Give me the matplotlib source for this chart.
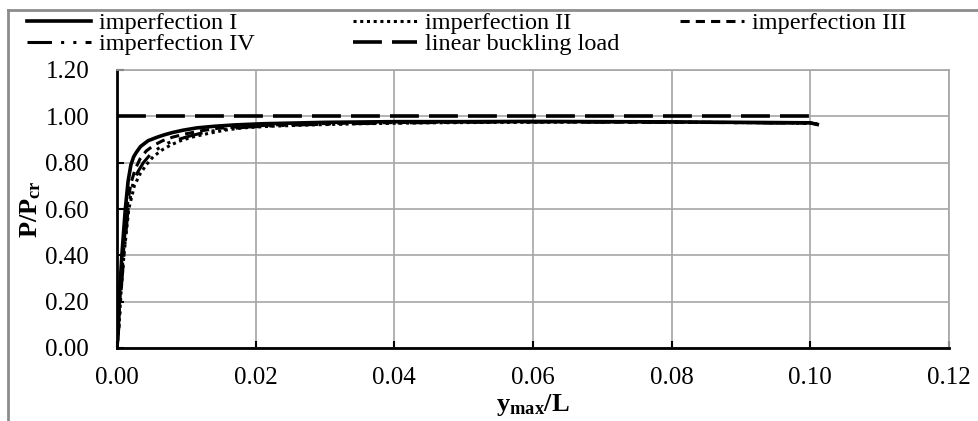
import matplotlib
matplotlib.use("Agg")
import matplotlib.pyplot as plt
from matplotlib.lines import Line2D

# values
imp1_x = [0, 0.0002, 0.0004, 0.0007, 0.0012, 0.0016, 0.002, 0.0024, 0.0028, 0.0034, 0.0045, 0.0058, 0.0068,
          0.008, 0.0095, 0.0115, 0.014, 0.017, 0.021, 0.03, 0.04, 0.05, 0.06, 0.07, 0.08, 0.09, 0.1, 0.101]
imp1_y = [0, 0.10, 0.25, 0.40, 0.60, 0.72, 0.79, 0.825, 0.845, 0.87, 0.895, 0.91, 0.92,
          0.93, 0.94, 0.95, 0.957, 0.963, 0.968, 0.974, 0.977, 0.977, 0.978, 0.977, 0.976, 0.974, 0.972, 0.965]

imp2_x = [0, 0.0003, 0.0006, 0.001, 0.0017, 0.0025, 0.0033, 0.0042, 0.0052, 0.0065, 0.0078, 0.0092, 0.0108,
          0.013, 0.0155, 0.018, 0.022, 0.028, 0.035, 0.045, 0.055, 0.065, 0.075, 0.085, 0.095, 0.1, 0.101]
imp2_y = [0, 0.10, 0.25, 0.40, 0.60, 0.70, 0.75, 0.79, 0.825, 0.855, 0.877, 0.895, 0.91,
          0.925, 0.94, 0.95, 0.957, 0.963, 0.968, 0.972, 0.974, 0.975, 0.975, 0.974, 0.972, 0.97, 0.966]

imp3_x = [0, 0.0002, 0.0005, 0.0009, 0.0014, 0.002, 0.0026, 0.0033, 0.0042, 0.0053, 0.0066, 0.008, 0.0097,
          0.012, 0.0145, 0.018, 0.023, 0.03, 0.04, 0.05, 0.06, 0.07, 0.08, 0.09, 0.1, 0.101]
imp3_y = [0, 0.10, 0.25, 0.40, 0.60, 0.71, 0.77, 0.815, 0.85, 0.875, 0.895, 0.91, 0.923,
          0.937, 0.948, 0.956, 0.963, 0.969, 0.973, 0.976, 0.977, 0.976, 0.975, 0.973, 0.971, 0.966]

imp4_x = [0, 0.0003, 0.0006, 0.001, 0.0016, 0.0023, 0.003, 0.0038, 0.0048, 0.006, 0.0073, 0.0088, 0.0105,
          0.0125, 0.015, 0.019, 0.025, 0.033, 0.042, 0.052, 0.062, 0.072, 0.082, 0.092, 0.1, 0.101]
imp4_y = [0, 0.10, 0.25, 0.40, 0.60, 0.71, 0.76, 0.80, 0.835, 0.862, 0.884, 0.9, 0.915,
          0.93, 0.943, 0.954, 0.962, 0.968, 0.972, 0.975, 0.976, 0.975, 0.974, 0.972, 0.97, 0.966]

linear_x = [0, 0.1]
linear_y = [1.0, 1.0]

x_ticks = [0.00, 0.02, 0.04, 0.06, 0.08, 0.10, 0.12]
y_ticks = [0.00, 0.20, 0.40, 0.60, 0.80, 1.00, 1.20]

plt.rcParams["font.family"] = ["Liberation Serif", "DejaVu Serif"]
plt.rcParams["mathtext.fontset"] = "custom"
plt.rcParams["mathtext.bf"] = "Liberation Serif:bold"
plt.rcParams["mathtext.rm"] = "Liberation Serif"

W, H = 979, 421
fig = plt.figure(figsize=(W / 100, H / 100), dpi=100)
ax = fig.add_axes([117 / W, 1 - 348 / H, (949 - 117) / W, (348 - 70) / H])

styles = {
    "imperfection I": dict(ls="-", lw=2.6),
    "imperfection II": dict(ls=(0, (1, 1.2)), lw=2.2),
    "imperfection III": dict(ls=(0, (3, 2)), lw=2.2),
    "imperfection IV": dict(ls=(0, (8, 3, 1, 3, 1, 3)), lw=2.2),
    "linear buckling load": dict(ls=(0, (8, 2.8)), lw=2.6),
}

ax.plot(imp2_x, imp2_y, color="black", **styles["imperfection II"])
ax.plot(imp4_x, imp4_y, color="black", **styles["imperfection IV"])
ax.plot(imp3_x, imp3_y, color="black", **styles["imperfection III"])
ax.plot(imp1_x, imp1_y, color="black", **styles["imperfection I"])
ax.plot(linear_x, linear_y, color="black", **styles["linear buckling load"])

ax.set_xlim(0, 0.12)
ax.set_ylim(0, 1.2)
ax.set_xticks(x_ticks)
ax.set_yticks(y_ticks)
ax.set_xticklabels([f"{v:.2f}" for v in x_ticks])
ax.set_yticklabels([f"{v:.2f}" for v in y_ticks])
ax.tick_params(direction="in", length=5, width=1.5, labelsize=18, pad=14)
ax.tick_params(axis="y", pad=20)
ax.grid(True, color="#a6a6a6", lw=1.2)
ax.set_axisbelow(True)
for side in ["top", "right"]:
    ax.spines[side].set_color("#a6a6a6")
    ax.spines[side].set_linewidth(1.2)
for side in ["left", "bottom"]:
    ax.spines[side].set_color("black")
    ax.spines[side].set_linewidth(2)

ax.set_xlabel(r"$\mathbf{y_{max}/L}$", fontsize=19, labelpad=2)
ax.set_ylabel(r"$\mathbf{P/P_{cr}}$", fontsize=19, labelpad=2)

# legend entries placed on the Excel grid: 3 columns, 2 rows
legend_order = ["imperfection I", "imperfection II", "imperfection III",
                "imperfection IV", "linear buckling load"]
col_x = [27, 353, 680]
row_y = [23, 44]
for i, name in enumerate(legend_order):
    x0 = col_x[i % 3]
    y0 = row_y[i // 3]
    handle = Line2D([], [], color="black", **styles[name])
    fig.legend([handle], [name], loc="center left", bbox_to_anchor=(x0 / W, 1 - y0 / H),
               frameon=False, fontsize=17.5, handlelength=2.65, handletextpad=0.3,
               borderpad=0, borderaxespad=0)

# grey chart-area border (top and left visible)
fig.add_artist(Line2D([8 / W, 1], [1 - 10 / H, 1 - 10 / H], transform=fig.transFigure, color="#8c8c8c", lw=2))
fig.add_artist(Line2D([8 / W, 8 / W], [0, 1 - 10 / H], transform=fig.transFigure, color="#8c8c8c", lw=2))

fig.savefig("out.png", dpi=100)
